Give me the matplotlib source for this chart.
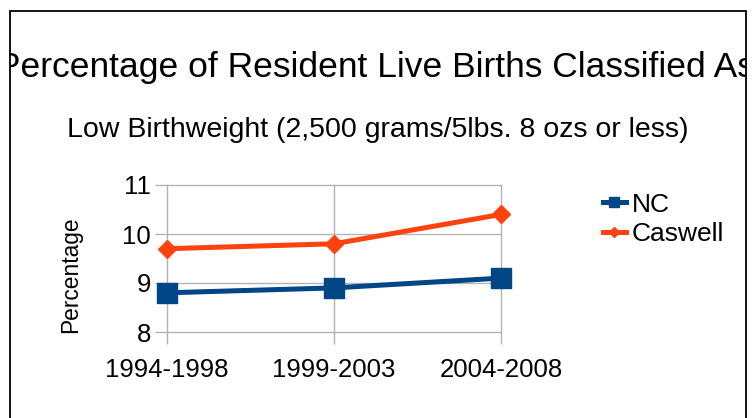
import matplotlib.pyplot as plt
from matplotlib.patches import Rectangle

plt.rcParams['font.family'] = ['Liberation Sans', 'DejaVu Sans']

# data
periods = ['1994-1998', '1999-2003', '2004-2008']
nc = [8.8, 8.9, 9.1]
caswell = [9.7, 9.8, 10.4]
yticks = [8, 9, 10, 11]

W, H = 755, 418
fig = plt.figure(figsize=(W / 100, H / 100), dpi=100, facecolor='w')

# outer frame of the chart (bottom edge falls outside the image)
frame = Rectangle((10 / W, -0.05), (746 - 10) / W, 1.05 - 11 / H,
                  transform=fig.transFigure, fill=False, ec='black', lw=1.3)
fig.patches.append(frame)

ax = fig.add_axes([167 / W, 1 - 332 / H, (501 - 167) / W, (332 - 185) / H])
x = range(len(periods))
ax.plot(x, nc, color='#004586', lw=3.6, marker='s', ms=14, label='NC',
        clip_on=False, zorder=3)
ax.plot(x, caswell, color='#ff420e', lw=3.6, marker='D', ms=9.6, label='Caswell',
        clip_on=False, zorder=3)

ax.set_xlim(0, 2)
ax.set_ylim(8, 11)
ax.set_xticks(list(x))
ax.set_xticklabels(periods)
ax.set_yticks(yticks)
for s in ax.spines.values():
    s.set_visible(False)
ax.grid(True, color='#b3b3b3', lw=1)
ax.set_axisbelow(True)
ax.tick_params(axis='both', colors='#b3b3b3', labelcolor='black', labelsize=18.5,
               length=8.5, width=1)
ax.tick_params(axis='x', pad=10)
ax.tick_params(axis='y', pad=3)
for line in ax.get_ygridlines() + ax.get_xgridlines():
    line.set_clip_on(False)

fig.text(71 / W, 1 - 275 / H, 'Percentage', rotation=90, ha='center', va='center',
         fontsize=16.4)

ax.legend(loc='upper left', bbox_to_anchor=(592 / W, 1 - 182 / H),
          bbox_transform=fig.transFigure, frameon=False, fontsize=19,
          handlelength=0.9, handletextpad=0.2, labelspacing=0.2,
          markerscale=0.55, borderaxespad=0)

t = fig.text(376 / W, 1 - 68 / H, 'Percentage of Resident Live Births Classified As',
             ha='center', va='center', fontsize=25.5)
t.set_clip_path(frame)
fig.text(378 / W, 1 - 130 / H, 'Low Birthweight (2,500 grams/5lbs. 8 ozs or less)',
         ha='center', va='center', fontsize=20.5)

fig.savefig('out.png', dpi=100)
